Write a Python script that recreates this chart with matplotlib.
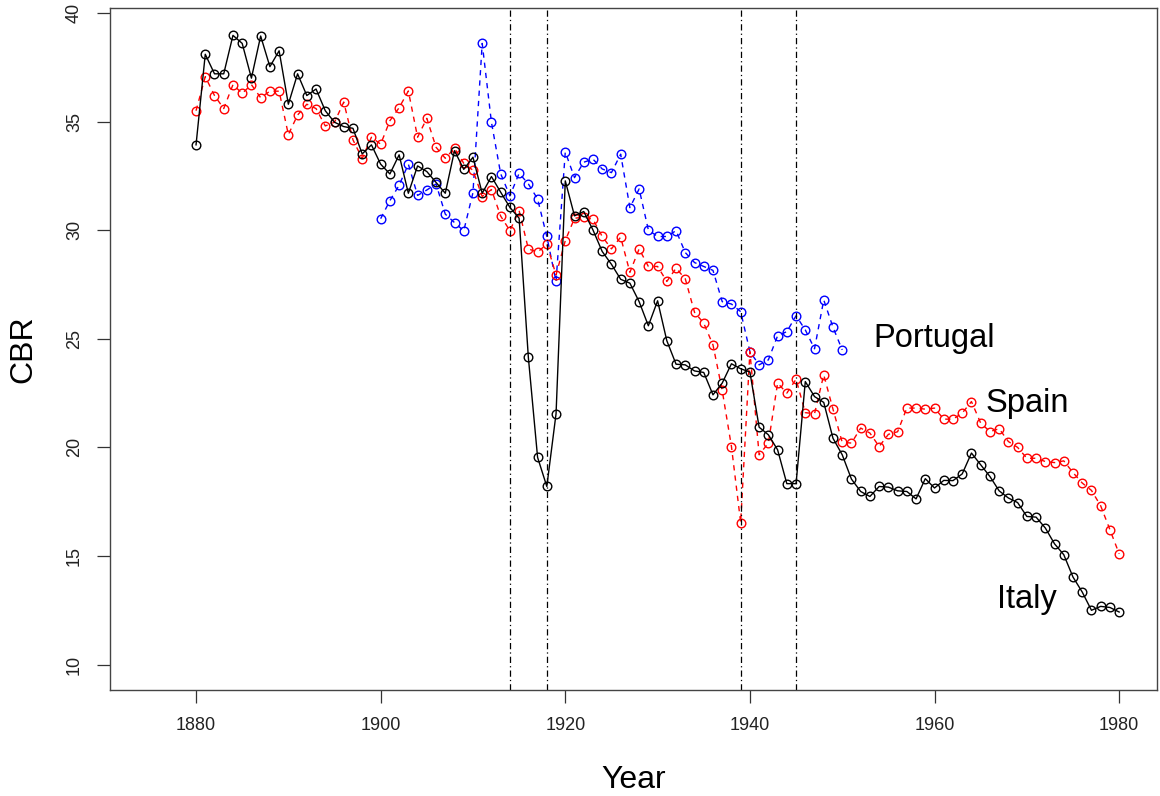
import matplotlib
matplotlib.use("Agg")
import matplotlib.pyplot as plt
import numpy as np

years_italy = list(range(1880, 1981))
italy = [33.93, 38.1, 37.2, 37.2, 38.97, 38.6, 37.0, 38.94, 37.53, 38.26,
         35.8, 37.2, 36.2, 36.5, 35.5, 34.97, 34.77, 34.69, 33.51, 33.93,
         33.04, 32.59, 33.47, 31.7, 32.96, 32.70, 32.2, 31.7, 33.66, 32.8,
         33.36, 31.7, 32.47, 31.75, 31.05, 30.55, 24.14, 19.54, 18.2, 21.55,
         32.27, 30.66, 30.86, 30.01, 29.02, 28.43, 27.74, 27.56, 26.71, 25.6,
         26.75, 24.91, 23.83, 23.8, 23.52, 23.45, 22.42, 22.96, 23.85, 23.62,
         23.47, 20.93, 20.58, 19.89, 18.33, 18.33, 23.03, 22.34, 22.07, 20.42,
         19.66, 18.54, 17.97, 17.74, 18.2, 18.17, 18.0, 17.97, 17.63, 18.56,
         18.13, 18.48, 18.47, 18.78, 19.74, 19.2, 18.66, 18.0, 17.67, 17.46,
         16.82, 16.79, 16.29, 15.56, 15.06, 14.03, 13.34, 12.5, 12.68, 12.63,
         12.42]

years_spain = list(range(1880, 1981))
spain = [35.5, 37.07, 36.2, 35.6, 36.7, 36.3, 36.7, 36.1, 36.4, 36.4,
         34.4, 35.3, 35.8, 35.6, 34.8, 34.97, 35.9, 34.16, 33.3, 34.28,
         33.96, 35.04, 35.64, 36.41, 34.28, 35.15, 33.82, 33.31, 33.77, 33.08,
         32.76, 31.55, 31.87, 30.65, 29.98, 30.9, 29.14, 28.99, 29.36, 27.94,
         29.52, 30.55, 30.6, 30.5, 29.71, 29.14, 29.68, 28.06, 29.14, 28.33,
         28.33, 27.64, 28.25, 27.76, 26.22, 25.72, 24.72, 22.62, 20.04, 16.54,
         24.41, 19.66, 20.2, 22.96, 22.5, 23.14, 21.6, 21.55, 23.34, 21.76,
         20.23, 20.2, 20.89, 20.66, 20.04, 20.6, 20.72, 21.81, 21.81, 21.76,
         21.81, 21.3, 21.3, 21.58, 22.11, 21.12, 20.73, 20.86, 20.27, 20.0,
         19.5, 19.5, 19.35, 19.3, 19.38, 18.84, 18.36, 18.02, 17.31, 16.21,
         15.1]

years_portugal = list(range(1900, 1951))
portugal = [30.53, 31.36, 32.07, 33.04, 31.6, 31.85, 32.13, 30.74, 30.35, 29.97,
            31.73, 38.6, 34.97, 32.6, 31.58, 32.62, 32.13, 31.44, 29.71, 27.64,
            33.6, 32.42, 33.13, 33.27, 32.82, 32.65, 33.5, 31.04, 31.9, 30.01,
            29.71, 29.71, 29.98, 28.97, 28.51, 28.33, 28.15, 26.71, 26.6, 26.25,
            24.41, 23.8, 24.03, 25.14, 25.33, 26.06, 25.41, 24.54, 26.79, 25.53,
            24.49]

war_years = [1914, 1918, 1939, 1945]
x_ticks = [1880, 1900, 1920, 1940, 1960, 1980]
y_ticks = [10, 15, 20, 25, 30, 35, 40]
labels = ["Portugal", "Spain", "Italy"]
label_pos = [(1960, 25), (1970, 22), (1970, 13)]

plt.rcParams['font.family'] = ['Liberation Sans', 'DejaVu Sans']

fig = plt.figure(figsize=(11.6, 7.96), dpi=100)
ax = fig.add_axes([110/1160, 1-690/796, (1157-110)/1160, (690-8)/796])

mk = dict(marker='o', markersize=6.2, markerfacecolor='none', markeredgewidth=1.0)
ax.plot(years_portugal, portugal, color='#0000FF', linestyle=(0, (3.8, 3.6)), linewidth=1.0,
        markeredgecolor='#0000FF', **mk)
ax.plot(years_spain, spain, color='#FF0000', linestyle=(0, (3.8, 3.6)), linewidth=1.0,
        markeredgecolor='#FF0000', **mk)
ax.plot(years_italy, italy, color='black', linestyle='-', linewidth=1.0,
        markeredgecolor='black', **mk)

for wy in war_years:
    ax.axvline(wy, color='black', linewidth=0.9, linestyle=(0, (5, 2.5, 1, 2.5)))

for lab, (lx, ly) in zip(labels, label_pos):
    ax.text(lx, ly, lab, fontsize=23.5, ha='center', va='center', color='black')

ax.set_xlim(1870.68, 1984.1)
ax.set_ylim(8.83, 40.23)
ax.set_xticks(x_ticks)
ax.set_yticks(y_ticks)
ax.set_xticklabels([str(t) for t in x_ticks])
ax.set_yticklabels([str(t) for t in y_ticks], rotation=90, va='center')
ax.tick_params(axis='both', length=9.5, width=0.9, color='#333333',
               labelsize=13, labelcolor='#222222', pad=10)
for s in ax.spines.values():
    s.set_color('#444444')
    s.set_linewidth(1.0)

ax.set_xlabel("Year", fontsize=23, labelpad=22)
ax.set_ylabel("CBR", fontsize=23, labelpad=20)

fig.savefig("out.png", dpi=100)
